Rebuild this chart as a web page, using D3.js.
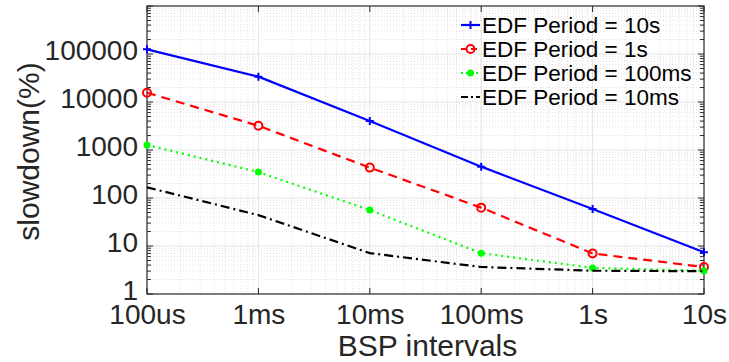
<!DOCTYPE html>
<html><head><meta charset="utf-8">
<script src="https://cdn.jsdelivr.net/npm/d3@7"></script>
<style>body{margin:0;background:#fff;}svg{display:block;font-family:"Liberation Sans",Arial,sans-serif;}</style>
</head><body>
<svg id="c" width="729" height="362"></svg>
<script>
const categories = ["100us","1ms","10ms","100ms","1s","10s"];
const xValues = [1e-4,1e-3,1e-2,1e-1,1,10];
const yTickValues = [1,10,100,1000,10000,100000];
const yTickLabels = ["1","10","100","1000","10000","100000"];
const seriesNames = ["EDF Period = 10s","EDF Period = 1s","EDF Period = 100ms","EDF Period = 10ms"];
const period10s = [125000, 33700, 4000, 450, 59, 7.4];
const period1s = [15600, 3200, 430, 63, 7.0, 3.65];
const period100ms = [1270, 347, 56, 7.1, 3.5, 3.06];
const period10ms = [167, 44, 7.1, 3.65, 3.06, 2.98];

const svg = d3.select("#c");
const L = 147, R = 704, T = 6, B = 294;
const x = d3.scaleLog().domain([1e-4, 10]).range([L, R]);
const y = d3.scaleLog().domain([1, 1e6]).range([B, T]);
const axisColor = "#262626";

// grid
const g = svg.append("g");
const minorY = [], minorX = [];
for (let e = 0; e < 6; e++) for (let k = 2; k <= 9; k++) minorY.push(k * Math.pow(10, e));
for (let e = -4; e < 1; e++) for (let k = 2; k <= 9; k++) minorX.push(k * Math.pow(10, e));
g.selectAll(".my").data(minorY).join("line")
  .attr("x1", L).attr("x2", R).attr("y1", d => y(d)).attr("y2", d => y(d))
  .attr("stroke", "#d4d4d4").attr("stroke-width", 0.7).attr("stroke-dasharray", "1,2");
g.selectAll(".mx").data(minorX).join("line")
  .attr("y1", T).attr("y2", B).attr("x1", d => x(d)).attr("x2", d => x(d))
  .attr("stroke", "#d4d4d4").attr("stroke-width", 0.7).attr("stroke-dasharray", "1,2");
g.selectAll(".gy").data([10,100,1000,10000,100000]).join("line")
  .attr("x1", L).attr("x2", R).attr("y1", d => y(d)).attr("y2", d => y(d))
  .attr("stroke", "#e3e3e3").attr("stroke-width", 1);
g.selectAll(".gx").data(xValues.slice(1, -1)).join("line")
  .attr("y1", T).attr("y2", B).attr("x1", d => x(d)).attr("x2", d => x(d))
  .attr("stroke", "#e3e3e3").attr("stroke-width", 1);

// axes
const yAxis = d3.axisLeft(y).tickValues(yTickValues).tickFormat((d, i) => yTickLabels[i]).tickSize(0).tickPadding(9);
const ya = svg.append("g").attr("transform", `translate(${L},0)`).call(yAxis);
ya.select(".domain").remove();
ya.selectAll("text").attr("font-size", 28).attr("fill", axisColor).attr("font-family", "Liberation Sans, Arial, sans-serif")
  .attr("dy", "0.21em");

const xAxis = d3.axisBottom(x).tickValues(xValues).tickFormat((d, i) => categories[i]).tickSize(0).tickPadding(10);
const xa = svg.append("g").attr("transform", `translate(0,${B})`).call(xAxis);
xa.select(".domain").remove();
xa.selectAll("text").attr("font-size", 28).attr("fill", axisColor).attr("font-family", "Liberation Sans, Arial, sans-serif");

// ticks (inside)
const tk = svg.append("g").attr("stroke", axisColor).attr("stroke-width", 1);
[L, R].forEach(xx => {
  const dir = xx === L ? 1 : -1;
  tk.selectAll(null).data(yTickValues.concat([1e6])).join("line")
    .attr("x1", xx).attr("x2", xx + dir * 6).attr("y1", d => y(d)).attr("y2", d => y(d));
  tk.selectAll(null).data(minorY).join("line")
    .attr("x1", xx).attr("x2", xx + dir * 4).attr("y1", d => y(d)).attr("y2", d => y(d));
});
[B, T].forEach(yy => {
  const dir = yy === B ? -1 : 1;
  tk.selectAll(null).data(xValues).join("line")
    .attr("y1", yy).attr("y2", yy + dir * 6).attr("x1", d => x(d)).attr("x2", d => x(d));
});
svg.append("rect").attr("x", L).attr("y", T).attr("width", R - L).attr("height", B - T)
  .attr("fill", "none").attr("stroke", axisColor).attr("stroke-width", 1.2);

// axis titles
svg.append("text").attr("x", (L + R) / 2 + 2).attr("y", 356).attr("text-anchor", "middle")
  .attr("font-size", 30).attr("fill", axisColor).text("BSP intervals");
svg.append("text").attr("transform", `translate(39,${(58 + 245) / 2}) rotate(-90)`).attr("text-anchor", "middle")
  .attr("font-size", 30).attr("fill", axisColor).text("slowdown(%)");

// series
const series = [
  {name: seriesNames[0], values: period10s, color: "#0000ff", dash: null, marker: "plus"},
  {name: seriesNames[1], values: period1s, color: "#ff0000", dash: "9,6", marker: "circle"},
  {name: seriesNames[2], values: period100ms, color: "#00ff00", dash: "2,4", marker: "dot"},
  {name: seriesNames[3], values: period10ms, color: "#000000", dash: "9,4,2,4", marker: null}
];
const line = d3.line().x((d, i) => x(xValues[i])).y(d => y(d));
function drawMarker(sel, type, color) {
  if (type === "plus") {
    sel.append("path").attr("d", "M-4,0H4M0,-4V4").attr("stroke", color).attr("stroke-width", 2).attr("fill", "none");
  } else if (type === "circle") {
    sel.append("circle").attr("r", 4).attr("fill", "none").attr("stroke", color).attr("stroke-width", 2);
  } else if (type === "dot") {
    sel.append("circle").attr("r", 3.5).attr("fill", color);
  }
}
series.forEach(s => {
  svg.append("path").datum(s.values).attr("d", line).attr("fill", "none")
    .attr("stroke", s.color).attr("stroke-width", 2.2)
    .attr("stroke-dasharray", s.dash);
  if (s.marker) {
    svg.append("g").selectAll("g").data(s.values).join("g")
      .attr("transform", (d, i) => `translate(${x(xValues[i])},${y(d)})`)
      .each(function () { drawMarker(d3.select(this), s.marker, s.color); });
  }
});

// legend
const legRows = [25, 49, 73, 97];
series.forEach((s, i) => {
  const gy = legRows[i];
  const lg = svg.append("g");
  lg.append("line").attr("x1", 461).attr("x2", 480).attr("y1", gy).attr("y2", gy)
    .attr("stroke", s.color).attr("stroke-width", 2.2).attr("stroke-dasharray", s.dash ? (i === 3 ? "7,3,2,3" : (i === 1 ? "6,4" : "2,3")) : null);
  if (s.marker) drawMarker(lg.append("g").attr("transform", `translate(470.5,${gy})`), s.marker, s.color);
  lg.append("text").attr("x", 482).attr("y", gy + 8).attr("font-size", 22.5).attr("fill", "#000").text(s.name);
});
</script>
</body></html>
